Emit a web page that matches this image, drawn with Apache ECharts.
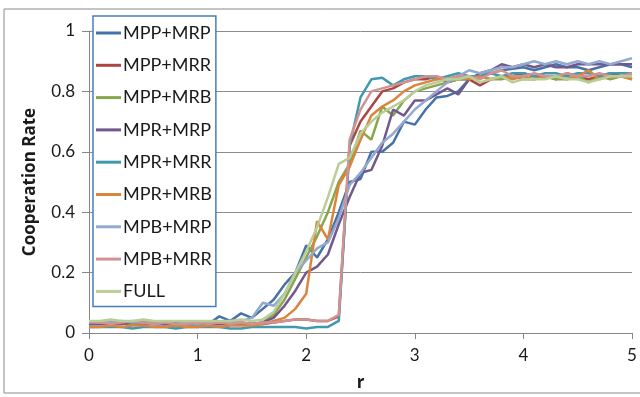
<!DOCTYPE html>
<html>
<head>
<meta charset="utf-8">
<script src="https://cdn.jsdelivr.net/npm/echarts@6/dist/echarts.min.js"></script>
<style>
  html, body { margin: 0; padding: 0; background: #fff; }
  #chart { width: 640px; height: 397px; }
</style>
</head>
<body>
<div id="chart"></div>
<script>
// r goes 0 .. 5 in steps of 0.1
const rValues = [];
for (let i = 0; i <= 50; i++) rValues.push(+(i / 10).toFixed(1));

const seriesNames = ['MPP+MRP', 'MPP+MRR', 'MPP+MRB', 'MPR+MRP', 'MPR+MRR', 'MPR+MRB', 'MPB+MRP', 'MPB+MRR', 'FULL'];
const seriesColors = ['#4572A7', '#AA4643', '#89A54E', '#71588F', '#4198AF', '#DB843D', '#93A9CF', '#D19392', '#B9CD96'];

const mppMrp = [0.035,0.035,0.03,0.035,0.03,0.035,0.03,0.03,0.035,0.03,0.03,
  0.03,0.055,0.04,0.065,0.05,0.08,0.11,0.16,0.2,
  0.29,0.25,0.31,0.4,0.5,0.51,0.6,0.6,0.63,0.7,
  0.69,0.74,0.78,0.785,0.8,0.84,0.85,0.86,0.87,0.875,
  0.88,0.87,0.88,0.89,0.88,0.88,0.87,0.88,0.89,0.89,0.88];
const mppMrr = [0.03,0.03,0.035,0.03,0.035,0.035,0.03,0.03,0.03,0.03,0.03,
  0.03,0.03,0.03,0.035,0.03,0.03,0.035,0.04,0.045,
  0.045,0.04,0.04,0.055,0.62,0.7,0.75,0.8,0.81,0.83,
  0.84,0.84,0.85,0.83,0.84,0.84,0.82,0.84,0.85,0.85,
  0.86,0.85,0.85,0.84,0.86,0.85,0.84,0.85,0.86,0.85,0.85];
const mppMrb = [0.03,0.03,0.03,0.035,0.03,0.035,0.035,0.03,0.03,0.03,0.03,
  0.03,0.03,0.03,0.03,0.03,0.035,0.06,0.11,0.18,
  0.25,0.32,0.4,0.5,0.56,0.67,0.64,0.75,0.72,0.77,
  0.8,0.81,0.82,0.83,0.84,0.84,0.85,0.84,0.84,0.85,
  0.84,0.84,0.85,0.84,0.84,0.85,0.83,0.85,0.84,0.85,0.84];
const mprMrp = [0.03,0.03,0.03,0.03,0.035,0.03,0.03,0.03,0.03,0.03,0.03,
  0.03,0.03,0.03,0.03,0.03,0.035,0.05,0.09,0.14,
  0.2,0.22,0.26,0.36,0.45,0.53,0.54,0.62,0.74,0.72,
  0.77,0.77,0.79,0.81,0.79,0.84,0.86,0.87,0.89,0.88,
  0.89,0.88,0.89,0.88,0.88,0.89,0.89,0.89,0.89,0.89,0.89];
const mprMrr = [0.02,0.02,0.02,0.02,0.015,0.02,0.02,0.02,0.015,0.02,0.02,
  0.02,0.02,0.015,0.015,0.02,0.02,0.02,0.02,0.02,
  0.015,0.02,0.02,0.04,0.62,0.78,0.84,0.845,0.82,0.84,
  0.85,0.85,0.84,0.85,0.86,0.85,0.85,0.86,0.85,0.86,
  0.86,0.85,0.86,0.86,0.85,0.86,0.86,0.85,0.86,0.86,0.86];
const mprMrb = [0.02,0.02,0.025,0.02,0.025,0.025,0.02,0.02,0.025,0.02,0.02,
  0.025,0.02,0.025,0.025,0.025,0.03,0.04,0.05,0.08,
  0.13,0.37,0.31,0.49,0.55,0.64,0.72,0.75,0.77,0.8,
  0.82,0.83,0.84,0.84,0.85,0.84,0.85,0.84,0.85,0.84,
  0.85,0.84,0.85,0.85,0.84,0.85,0.87,0.84,0.85,0.85,0.84];
const mpbMrp = [0.04,0.035,0.035,0.04,0.035,0.035,0.03,0.035,0.03,0.035,0.03,
  0.035,0.035,0.035,0.04,0.05,0.1,0.09,0.13,0.2,
  0.24,0.28,0.3,0.38,0.49,0.53,0.58,0.63,0.66,0.7,
  0.74,0.77,0.8,0.83,0.85,0.87,0.86,0.87,0.88,0.88,
  0.89,0.9,0.89,0.9,0.89,0.9,0.89,0.9,0.89,0.9,0.91];
const mpbMrr = [0.035,0.035,0.03,0.035,0.04,0.035,0.03,0.035,0.03,0.03,0.035,
  0.03,0.035,0.03,0.035,0.03,0.035,0.035,0.04,0.045,
  0.045,0.04,0.04,0.06,0.64,0.74,0.8,0.81,0.82,0.83,
  0.84,0.85,0.85,0.84,0.85,0.85,0.84,0.86,0.87,0.85,
  0.85,0.86,0.85,0.85,0.86,0.85,0.85,0.86,0.85,0.85,0.86];
const full = [0.04,0.04,0.045,0.04,0.04,0.045,0.04,0.04,0.04,0.04,0.04,
  0.04,0.04,0.04,0.045,0.04,0.045,0.07,0.13,0.2,
  0.27,0.35,0.45,0.56,0.58,0.66,0.7,0.73,0.75,0.77,
  0.8,0.82,0.83,0.84,0.84,0.85,0.83,0.84,0.85,0.83,
  0.84,0.84,0.84,0.85,0.84,0.84,0.83,0.84,0.85,0.85,0.85];

const allValues = [mppMrp, mppMrr, mppMrb, mprMrp, mprMrr, mprMrb, mpbMrp, mpbMrr, full];

const font = 'Lato, "Open Sans", sans-serif';
const nameFont = '"Open Sans", Lato, sans-serif';
const chart = echarts.init(document.getElementById('chart'));

chart.setOption({
  animation: false,
  color: seriesColors,
  graphic: [{
    type: 'rect',
    shape: { x: 4, y: 9, width: 700, height: 384 },
    style: { fill: 'none', stroke: '#8a8a8a', lineWidth: 1 },
    silent: true
  }],
  grid: { left: 89, right: 8, top: 31, bottom: 64 },
  legend: {
    orient: 'vertical',
    left: 93,
    top: 16,
    width: 125,
    padding: [8, 4, 6, 3],
    icon: 'rect',
    itemWidth: 25,
    itemHeight: 3,
    itemGap: 14.3,
    backgroundColor: '#fff',
    borderColor: '#4a7ebb',
    borderWidth: 1.5,
    data: seriesNames,
    textStyle: { fontFamily: font, fontSize: 18, color: '#1a1a1a', lineHeight: 18, padding: [0, 0, 0, -3] }
  },
  xAxis: {
    type: 'value',
    min: 0,
    max: 5,
    interval: 1,
    name: 'r',
    nameLocation: 'middle',
    nameGap: 42,
    nameTextStyle: { fontFamily: nameFont, fontSize: 17, fontWeight: 'bold', color: '#1a1a1a' },
    axisLine: { show: true, lineStyle: { color: '#868686', width: 1 } },
    axisTick: { show: true, length: 6, lineStyle: { color: '#868686' } },
    axisLabel: { fontFamily: font, fontSize: 17, color: '#1a1a1a', margin: 14 },
    splitLine: { show: false }
  },
  yAxis: {
    type: 'value',
    min: 0,
    max: 1,
    interval: 0.2,
    name: 'Cooperation Rate',
    nameLocation: 'middle',
    nameGap: 50,
    nameTextStyle: { fontFamily: nameFont, fontSize: 17, fontWeight: 'bold', color: '#1a1a1a' },
    axisLine: { show: true, lineStyle: { color: '#868686', width: 1 } },
    axisTick: { show: true, length: 7, lineStyle: { color: '#868686' } },
    axisLabel: { fontFamily: font, fontSize: 17, color: '#1a1a1a', margin: 14 },
    splitLine: { show: true, lineStyle: { color: '#8c8c8c', width: 1 } }
  },
  series: seriesNames.map(function (name, k) {
    return {
      name: name,
      type: 'line',
      symbol: 'none',
      data: rValues.map(function (r, i) { return [r, allValues[k][i]]; }),
      lineStyle: { width: 2.5, color: seriesColors[k] },
      itemStyle: { color: seriesColors[k] }
    };
  })
});
</script>
</body>
</html>
